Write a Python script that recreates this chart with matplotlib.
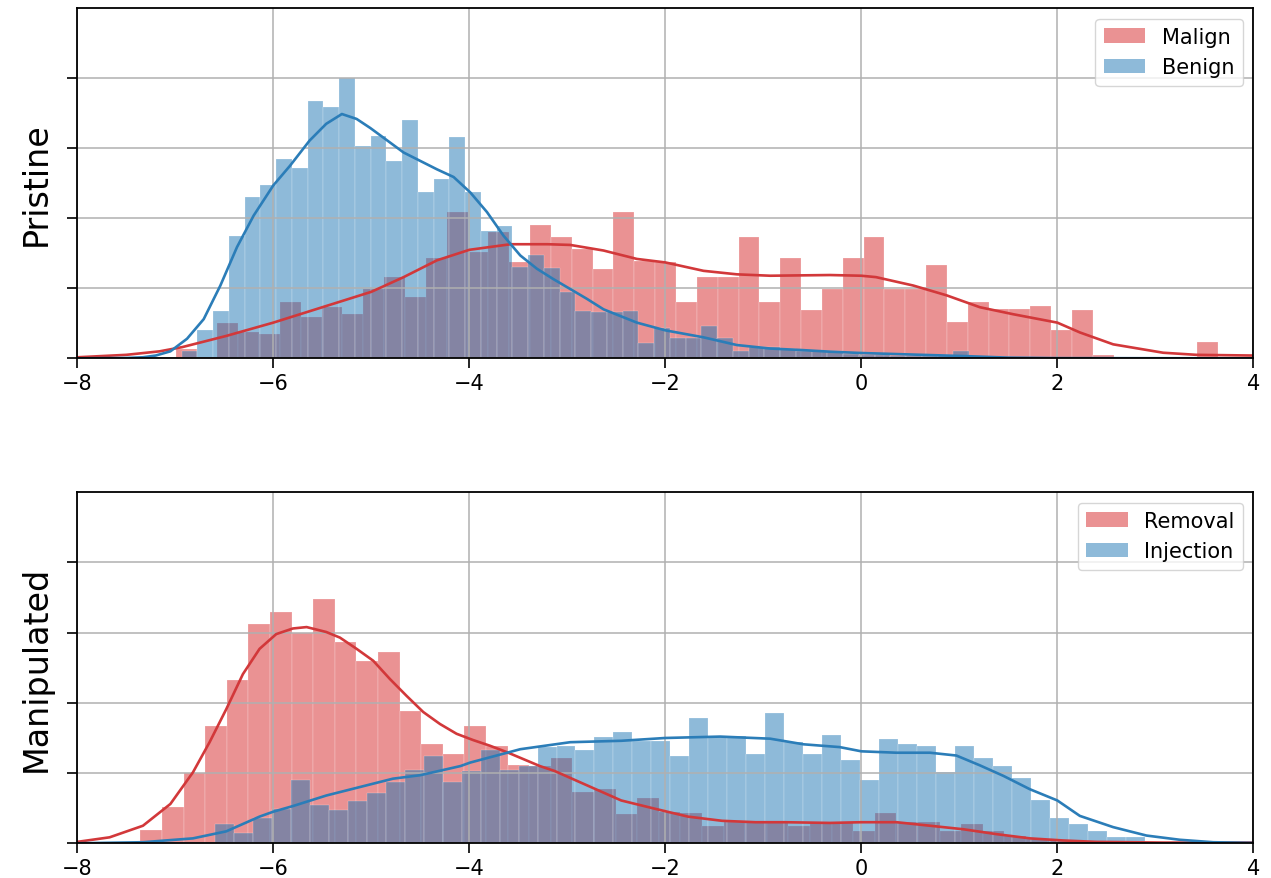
import numpy as np
import matplotlib
matplotlib.use("Agg")
import matplotlib.pyplot as plt
from matplotlib.patches import Patch

# ---------------- data (heights in grid units, unlabeled y axis) ----------------
# Top panel: Pristine
malign_start, malign_width = -6.996, 0.2127
malign_heights = [0.13, 0.0, 0.51, 0.38, 0.35, 0.81, 0.59, 0.74, 0.63, 0.99,
                  1.16, 0.87, 1.44, 2.09, 1.52, 1.80, 1.38, 1.91, 1.73, 1.56,
                  1.28, 2.09, 1.39, 1.37, 0.81, 1.16, 1.16, 1.74, 0.81, 1.44,
                  0.69, 0.99, 1.44, 1.74, 0.99, 0.99, 1.33, 0.52, 0.81, 0.70,
                  0.70, 0.75, 0.40, 0.69, 0.05, 0.0, 0.0, 0.0, 0.0, 0.23]
benign_start, benign_width = -6.935, 0.1607
benign_heights = [0.11, 0.40, 0.67, 1.75, 2.31, 2.47, 2.85, 2.72, 3.68, 3.59,
                  4.00, 3.03, 3.18, 2.82, 3.40, 2.38, 2.56, 3.16, 2.38, 1.82,
                  1.89, 1.30, 1.48, 1.29, 0.95, 0.67, 0.66, 0.66, 0.67, 0.22,
                  0.43, 0.29, 0.29, 0.46, 0.29, 0.10, 0.16, 0.16, 0.14, 0.11,
                  0.10, 0.10, 0.06, 0.05, 0.05, 0.04, 0.04, 0.04, 0.05, 0.11]
malign_kde_x = [-8.0, -7.5, -7.16, -6.93, -6.48, -6.0, -5.5, -5.0, -4.67, -4.33,
                -4.0, -3.58, -3.2, -2.97, -2.63, -2.29, -2.0, -1.61, -1.27, -0.93,
                -0.32, 0.0, 0.15, 0.53, 0.87, 1.21, 1.55, 2.0, 2.23, 2.57,
                3.08, 3.42, 4.0]
malign_kde_y = [0.015, 0.05, 0.10, 0.16, 0.32, 0.51, 0.73, 0.95, 1.16, 1.40,
                1.55, 1.63, 1.63, 1.62, 1.54, 1.42, 1.37, 1.25, 1.20, 1.18,
                1.19, 1.18, 1.16, 1.04, 0.90, 0.73, 0.63, 0.51, 0.37, 0.20,
                0.08, 0.05, 0.04]
benign_kde_x = [-8.0, -7.5, -7.33, -7.2, -7.05, -6.88, -6.71, -6.54, -6.37, -6.2,
                -6.0, -5.83, -5.63, -5.46, -5.30, -5.15, -5.01, -4.67, -4.33, -4.16,
                -3.99, -3.82, -3.65, -3.48, -3.31, -3.14, -2.97, -2.80, -2.63, -2.29,
                -2.0, -1.61, -1.27, -0.93, -0.63, -0.32, 0.0, 0.5, 1.1, 1.5,
                2.0, 4.0]
benign_kde_y = [0.0, 0.005, 0.015, 0.04, 0.10, 0.28, 0.56, 1.04, 1.59, 2.04,
                2.47, 2.75, 3.11, 3.35, 3.49, 3.42, 3.29, 2.94, 2.70, 2.59,
                2.37, 2.09, 1.75, 1.47, 1.28, 1.13, 0.99, 0.85, 0.70, 0.51,
                0.40, 0.30, 0.19, 0.14, 0.12, 0.095, 0.076, 0.055, 0.03, 0.01,
                0.003, 0.0]

# Bottom panel: Manipulated
removal_start, removal_width = -7.355, 0.2204
removal_heights = [0.19, 0.51, 1.00, 1.67, 2.33, 3.12, 3.30, 3.00, 3.48, 2.87,
                   2.60, 2.73, 1.88, 1.41, 1.27, 1.67, 1.38, 1.12, 1.10, 1.22,
                   0.73, 0.77, 0.41, 0.64, 0.45, 0.43, 0.25, 0.30, 0.30, 0.30,
                   0.25, 0.30, 0.30, 0.18, 0.43, 0.30, 0.30, 0.18, 0.27, 0.17,
                   0.11, 0.06, 0.04, 0.02, 0.01, 0.0, 0.0, 0.0, 0.0, 0.01]
injection_start, injection_width = -6.595, 0.1936
injection_heights = [0.27, 0.15, 0.36, 0.49, 0.90, 0.55, 0.47, 0.60, 0.72, 0.87,
                     1.05, 1.24, 0.88, 1.03, 1.33, 1.05, 1.10, 1.37, 1.39, 1.33,
                     1.52, 1.58, 1.46, 1.46, 1.25, 1.79, 1.53, 1.53, 1.27, 1.85,
                     1.44, 1.27, 1.54, 1.18, 0.90, 1.49, 1.42, 1.39, 1.02, 1.39,
                     1.21, 1.10, 0.93, 0.61, 0.36, 0.27, 0.18, 0.09, 0.09, 0.02]
removal_kde_x = [-8.0, -7.67, -7.33, -7.05, -6.82, -6.65, -6.48, -6.31, -6.14, -5.97,
                 -5.80, -5.66, -5.46, -5.32, -5.15, -4.98, -4.81, -4.64, -4.47, -4.30,
                 -4.13, -3.96, -3.79, -3.62, -3.45, -3.28, -3.13, -2.79, -2.45, -2.10,
                 -1.77, -1.42, -1.08, -0.78, -0.32, 0.0, 0.36, 0.70, 1.04, 1.38,
                 1.72, 2.06, 2.40, 3.08, 4.0]
removal_kde_y = [0.02, 0.085, 0.25, 0.56, 1.01, 1.44, 1.91, 2.41, 2.77, 2.98,
                 3.06, 3.08, 3.01, 2.93, 2.77, 2.60, 2.34, 2.10, 1.87, 1.70,
                 1.56, 1.47, 1.39, 1.30, 1.20, 1.10, 1.03, 0.82, 0.61, 0.49,
                 0.38, 0.32, 0.30, 0.30, 0.29, 0.30, 0.30, 0.25, 0.20, 0.13,
                 0.07, 0.04, 0.02, 0.01, 0.01]
injection_kde_x = [-8.0, -7.33, -6.82, -6.48, -6.14, -6.0, -5.80, -5.46, -5.12, -4.78,
                   -4.50, -4.09, -3.99, -3.48, -2.97, -2.45, -2.0, -1.44, -0.93, -0.59,
                   -0.22, 0.0, 0.36, 0.70, 0.97, 1.21, 1.45, 1.72, 2.0, 2.23,
                   2.57, 2.91, 3.25, 3.59, 4.0]
injection_kde_y = [0.0, 0.015, 0.07, 0.17, 0.38, 0.45, 0.53, 0.68, 0.80, 0.92,
                   0.97, 1.10, 1.15, 1.34, 1.44, 1.46, 1.50, 1.52, 1.49, 1.41,
                   1.37, 1.31, 1.29, 1.29, 1.25, 1.11, 0.96, 0.77, 0.61, 0.39,
                   0.23, 0.11, 0.05, 0.015, 0.005]

x_ticks = [-8, -6, -4, -2, 0, 2, 4]
y_ticks = [0, 1, 2, 3, 4]
panel_labels = ["Pristine", "Manipulated"]
legend_top = ["Malign", "Benign"]
legend_bottom = ["Removal", "Injection"]

RED = "#d62728"
BLUE = "#1f77b4"
RED_LINE = "#d2383a"
BLUE_LINE = "#2b7db8"

fig = plt.figure(figsize=(12.71, 8.79), dpi=100)
ax1 = fig.add_axes([0.0608, 0.5912, 0.9253, 0.3982])
ax2 = fig.add_axes([0.0608, 0.0395, 0.9253, 0.3993])


def draw_panel(ax, r_start, r_w, r_h, b_start, b_w, b_h, rkx, rky, bkx, bky, labels, ylabel):
    r_edges = r_start + r_w * np.arange(len(r_h))
    b_edges = b_start + b_w * np.arange(len(b_h))
    ax.bar(r_edges, r_h, width=r_w, align="edge", color=RED, alpha=0.5,
           edgecolor="white", linewidth=0.3)
    ax.bar(b_edges, b_h, width=b_w, align="edge", color=BLUE, alpha=0.5,
           edgecolor="white", linewidth=0.3)
    ax.plot(rkx, rky, color=RED_LINE, lw=1.9, solid_joinstyle="round")
    ax.plot(bkx, bky, color=BLUE_LINE, lw=1.9, solid_joinstyle="round")
    ax.set_xlim(-8, 4)
    ax.set_ylim(0, 5)
    ax.set_xticks(x_ticks)
    ax.set_yticks(y_ticks)
    ax.set_yticklabels([])
    ax.grid(True, color="#b0b0b0", lw=1.1)
    ax.tick_params(labelsize=15, length=7, width=1.2)
    for s in ax.spines.values():
        s.set_linewidth(1.3)
    ax.set_ylabel(ylabel, fontsize=24, labelpad=7)
    handles = [Patch(facecolor=RED, alpha=0.5, label=labels[0]),
               Patch(facecolor=BLUE, alpha=0.5, label=labels[1])]
    ax.legend(handles=handles, loc="upper right", fontsize=15)


draw_panel(ax1, malign_start, malign_width, malign_heights,
           benign_start, benign_width, benign_heights,
           malign_kde_x, malign_kde_y, benign_kde_x, benign_kde_y,
           legend_top, panel_labels[0])
draw_panel(ax2, removal_start, removal_width, removal_heights,
           injection_start, injection_width, injection_heights,
           removal_kde_x, removal_kde_y, injection_kde_x, injection_kde_y,
           legend_bottom, panel_labels[1])

fig.savefig("out.png", dpi=100)
